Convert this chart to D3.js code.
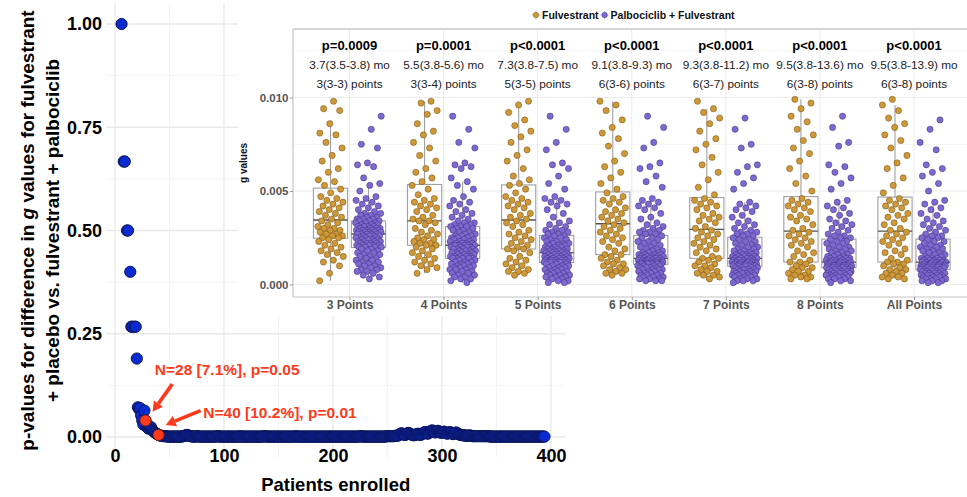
<!DOCTYPE html>
<html>
<head>
<meta charset="utf-8">
<script src="https://cdn.jsdelivr.net/npm/d3@7"></script>
<style>
body { margin: 0; background: #fff; }
svg text { font-family: "Liberation Sans", Arial, sans-serif; }
</style>
</head>
<body>
<div id="chart"></div>
<script>
var width = 967;
var height = 497;

// ---- main plot data: p-value by number of patients enrolled ----
var earlyN = [6, 8, 9, 11, 12, 14, 15, 16, 18, 19, 20, 21, 22, 23, 24, 25, 26, 27, 28, 29, 30, 31, 32, 33, 34, 35, 36, 37, 38, 39, 40];
var earlyP = [1, 0.667, 0.667, 0.5, 0.5, 0.4, 0.267, 0.267, 0.267, 0.267, 0.19, 0.072, 0.068, 0.07, 0.052, 0.04, 0.03, 0.064, 0.04, 0.025, 0.022, 0.02, 0.022, 0.024, 0.018, 0.015, 0.012, 0.01, 0.008, 0.007, 0.005];
var highlightN = [28, 40];
// p-values (in thousandths) for N = 41 .. 394
var tailStart = 41;
var tailP = [
 4,3,3,2,2,2,2,1,1,1, 1,1,1,1,1,1,1,1,1,1, 1,2,2,3,4,5,4,3,2,2, 1,1,1,1,2,2,1,1,1,1,
 1,1,1,1,1,1,1,1,1,1, 1,1,1,2,2,1,1,1,1,1, 1,1,1,1,1,1,1,1,1,1, 1,1,1,1,2,1,1,1,1,1,
 1,1,1,1,1,1,1,1,1,1, 1,1,1,1,1,1,2,2,1,1, 1,1,1,1,1,1,1,1,1,1, 1,1,1,1,1,1,1,1,1,1,
 1,1,1,1,1,2,1,1,1,1, 1,1,1,1,1,1,1,1,1,1, 1,1,1,1,1,1,1,1,1,1, 1,1,1,1,1,1,1,1,1,1,
 1,1,1,1,1,1,1,1,1,1, 1,1,1,1,1,1,1,1,1,1, 1,1,1,1,2,2,1,1,1,1, 1,1,1,1,1,1,1,1,1,1,
 1,1,1,1,1,1,1,1,2,2, 2,2,2,2,2,2,3,3,3,4, 6,8,9,7,6,5,6,8,10,9, 7,6,5,4,5,6,7,8,6,5,
 6,8,10,12,11,9,8,10,13,15, 16,14,12,11,13,15,14,12,10,11, 12,13,11,9,8,10,12,11,9,7,
 8,10,11,9,7,6,5,5,4,4, 4,3,3,3,4,3,3,2,2,2, 2,2,2,2,2,2,2,2,2,2, 2,2,2,1,1,1,1,1,1,1,
 1,1,1,1,1,1,1,1,1,1, 1,1,1,1,1,1,1,1,1,1, 1,1,1,1,1,1,1,1,1,1, 1,1,1,1,1,1,1,1,1,1,
 1,1,1,1
];
var annotations = ["N=28 [7.1%], p=0.05", "N=40 [10.2%], p=0.01"];

// ---- inset data: g values (x 1e-4) ----
var categories = ["3 Points", "4 Points", "5 Points", "6 Points", "7 Points", "8 Points", "All Points"];
var arms = ["Fulvestrant", "Palbociclib + Fulvestrant"];
var pLabels = ["p=0.0009", "p=0.0001", "p<0.0001", "p<0.0001", "p<0.0001", "p<0.0001", "p<0.0001"];
var moLabels = ["3.7(3.5-3.8) mo", "5.5(3.8-5.6) mo", "7.3(3.8-7.5) mo", "9.1(3.8-9.3) mo", "9.3(3.8-11.2) mo", "9.5(3.8-13.6) mo", "9.5(3.8-13.9) mo"];
var ptLabels = ["3(3-3) points", "3(3-4) points", "5(3-5) points", "6(3-6) points", "6(3-7) points", "6(3-8) points", "6(3-8) points"];

var fulv3 = [98,94,93,86,81,80,76,73,69,66,62,60,56,55,53, 51,49,47,46,45,44,43,42,41,40,39,38,37,36,35, 34,33,32,31,30,30,29,29,28,27,27,26,26,25,25, 24,23,22,21,20,19,18,17,16,15,13,12,10,6,2];
var fulv4 = [98,97,93,91,86,82,80,76,73,69,66,62,60,57,55, 53,51,48,46,45,44,43,42,41,40,39,37,36,35,34, 34,33,32,30,29,28,27,26,25,24,24,23,22,22,21, 21,20,19,18,17,16,15,14,13,12,11,10,9,8,6];
var fulv5 = [98,96,92,88,85,82,79,76,72,69,66,62,58,56,54, 53,51,49,47,46,45,44,43,42,41,40,38,37,36,35, 34,33,32,31,29,28,27,26,25,24,23,22,21,20,19, 19,18,17,15,14,13,12,11,10,9,8,7,7,6,5];
var fulv6 = [98,96,93,88,84,81,78,74,70,66,63,60,57,54,51, 49,47,46,45,44,43,41,40,39,38,37,36,35,34,33, 32,31,30,29,28,27,26,25,24,23,22,20,19,18,16, 16,15,14,13,12,11,11,10,9,8,8,7,6,6,5];
var fulv7 = [98,94,92,89,86,82,78,75,72,68,64,60,56,52,48, 46,45,44,43,42,41,40,38,37,36,35,34,33,31,30, 29,28,27,26,25,24,23,22,21,20,19,18,17,15,14, 14,13,12,11,10,10,9,8,7,7,6,5,5,4,3];
var fulv8 = [99,97,94,90,87,83,80,77,73,70,66,62,58,54,50, 46,45,44,43,42,41,40,39,37,36,35,34,32,30,29, 28,27,26,25,24,23,22,21,20,18,17,16,15,13,12, 12,11,10,9,9,8,7,7,6,5,5,4,4,3,3];
var fulvAll = [99,96,93,89,86,84,80,77,73,69,65,62,57,53,49, 46,45,44,43,42,41,40,38,37,36,35,33,32,30,29, 28,27,26,25,24,23,22,21,19,18,17,16,14,13,12, 12,11,11,10,9,8,8,7,6,6,5,4,4,3,3];

var palbo3 = [90,83,75,73,65,64,63,57,54,53,50,47,46,45,44,43,42,41,40,39,38,38,37,37,36,36,35,35,35,34,
 34,34,33,33,33,32,32,32,31,31,31,31,30,30,30,30,29,29,29,29,29,28,28,28,28,28,27,27,27,27,
 27,26,26,26,26,25,25,25,25,24,24,24,24,23,23,23,23,22,22,22,22,21,21,21,21,21,20,20,20,20,
 19,19,18,18,17,17,16,16,15,15,14,14,13,13,12,12,11,11,10,10,9,9,8,8,7,7,6,5,4,3];
var palbo4 = [90,83,76,73,65,64,63,62,57,55,53,51,47,45,44,43,42,40,39,38,37,36,35,34,33,33,32,32,31,31,
 31,30,30,29,29,28,28,27,27,26,26,26,25,25,25,24,24,24,23,23,23,22,22,22,22,21,21,21,21,21,
 21,20,20,20,20,19,19,19,19,18,18,18,18,17,17,17,17,16,16,16,16,15,15,15,15,15,14,14,14,14,
 14,13,13,12,12,12,11,11,11,10,10,10,9,9,9,8,8,8,7,7,6,6,5,5,4,4,3,3,2,1];
var palbo5 = [90,83,76,72,65,64,62,58,54,51,47,46,45,44,43,42,40,38,36,34,33,32,31,30,29,29,28,28,27,27,
 26,26,25,25,24,24,23,23,22,22,22,21,21,21,20,20,20,19,19,19,19,18,18,18,18,18,17,17,17,17,
 17,16,16,16,16,16,15,15,15,15,15,14,14,14,14,14,13,13,13,13,13,13,12,12,12,12,12,12,12,12,
 11,11,11,10,10,10,9,9,9,8,8,8,7,7,7,6,6,6,5,5,5,4,4,4,3,3,2,2,1,1];
var palbo6 = [90,84,76,73,65,63,62,58,55,52,46,45,44,43,42,41,40,38,36,35,33,32,31,30,29,29,28,28,27,27,
 26,25,25,24,23,23,22,22,21,20,20,19,19,18,18,17,17,17,16,16,16,16,15,15,15,15,15,14,14,14,
 14,14,14,13,13,13,13,13,13,13,12,12,12,12,12,12,12,12,11,11,11,11,11,11,11,11,11,11,11,11,
 10,10,10,10,9,9,9,9,8,8,8,8,7,7,7,6,6,6,5,5,5,4,4,4,3,3,3,2,2,2];
var palbo7 = [89,83,75,73,64,63,60,57,54,51,44,43,42,41,40,39,37,36,34,33,32,31,30,29,28,28,27,27,26,26,
 25,24,24,23,23,22,21,21,20,20,19,19,18,18,17,17,17,16,16,16,16,15,15,15,15,15,14,14,14,14,
 14,13,13,13,13,13,13,12,12,12,12,12,12,12,11,11,11,11,11,11,11,11,10,10,10,10,10,10,10,10,
 9,9,9,9,8,8,8,8,7,7,7,7,6,6,6,6,5,5,5,5,4,4,4,3,3,3,2,2,2,1];
var palbo8 = [90,84,76,74,64,63,60,57,54,51,45,44,42,41,40,38,37,35,34,33,32,31,30,29,28,27,26,26,25,25,
 24,23,23,22,22,21,20,20,19,19,18,18,17,17,16,16,15,15,15,14,14,14,14,13,13,13,13,13,12,12,
 12,12,12,12,12,11,11,11,11,11,11,11,11,10,10,10,10,10,10,10,10,10,10,9,9,9,9,9,9,9,
 9,8,8,8,8,8,7,7,7,7,7,6,6,6,6,6,5,5,5,5,4,4,4,4,3,3,3,2,2,1];
var palboAll = [88,83,76,72,64,62,60,58,54,50,45,44,43,41,40,38,37,35,34,33,32,31,30,29,28,27,26,26,25,25,
 24,23,23,22,21,21,20,20,19,19,18,18,17,17,16,16,15,15,14,14,14,14,13,13,13,13,13,12,12,12,
 12,12,12,11,11,11,11,11,11,11,10,10,10,10,10,10,10,10,10,9,9,9,9,9,9,9,9,8,8,8,
 8,8,7,7,7,7,7,6,6,6,6,6,5,5,5,5,5,4,4,4,4,3,3,3,3,2,2,2,1,1];

var fulvData = [fulv3, fulv4, fulv5, fulv6, fulv7, fulv8, fulvAll];
var palboData = [palbo3, palbo4, palbo5, palbo6, palbo7, palbo8, palboAll];

var armFill = ["#cf9838", "#7d69cf"];
var armStroke = ["#6e4e12", "#3a2c7c"];

var svg = d3.select("#chart").append("svg")
    .attr("width", width)
    .attr("height", height);

svg.append("rect").attr("width", width).attr("height", height).attr("fill", "#fff");

// ================= main plot =================
var x = d3.scaleLinear().domain([0, 400]).range([115, 551]);
var y = d3.scaleLinear().domain([0, 1]).range([437, 24]);
var px0 = x(-8), px1 = x(413), py0 = y(1.05), py1 = y(-0.05);

var grid = svg.append("g");
[50, 150, 250, 350].forEach(function(v) {
    grid.append("line").attr("x1", x(v)).attr("x2", x(v)).attr("y1", py0).attr("y2", py1)
        .attr("stroke", "#f3f3f3").attr("stroke-width", 1);
});
[0.125, 0.375, 0.625, 0.875].forEach(function(v) {
    grid.append("line").attr("x1", px0).attr("x2", px1).attr("y1", y(v)).attr("y2", y(v))
        .attr("stroke", "#f3f3f3").attr("stroke-width", 1);
});
[0, 100, 200, 300, 400].forEach(function(v) {
    grid.append("line").attr("x1", x(v)).attr("x2", x(v)).attr("y1", py0).attr("y2", py1)
        .attr("stroke", "#e9e9e9").attr("stroke-width", 1.3);
});
[0, 0.25, 0.5, 0.75, 1].forEach(function(v) {
    grid.append("line").attr("x1", px0).attr("x2", px1).attr("y1", y(v)).attr("y2", y(v))
        .attr("stroke", "#e9e9e9").attr("stroke-width", 1.3);
});

var yAxis = svg.append("g").attr("transform", "translate(102,0)")
    .call(d3.axisLeft(y).tickValues([0, 0.25, 0.5, 0.75, 1]).tickFormat(d3.format(".2f")).tickSize(0).tickPadding(0));
yAxis.select(".domain").remove();
yAxis.selectAll("text").attr("font-size", 18).attr("font-weight", "bold").attr("fill", "#000")
    .style("font-family", '"Liberation Sans", Arial, sans-serif');

var xAxis = svg.append("g").attr("transform", "translate(0,449)")
    .call(d3.axisBottom(x).tickValues([0, 100, 200, 300, 400]).tickSize(0).tickPadding(0));
xAxis.select(".domain").remove();
xAxis.selectAll("text").attr("font-size", 18).attr("font-weight", "bold").attr("fill", "#000")
    .style("font-family", '"Liberation Sans", Arial, sans-serif');

// axis titles
var yt = svg.append("text")
    .attr("transform", "translate(27," + ((py0 + py1) / 2) + ") rotate(-90)")
    .attr("text-anchor", "middle").attr("dy", "0.35em")
    .attr("font-size", 19).attr("font-weight", "bold").attr("fill", "#000");
yt.append("tspan").text("p-values for difference in ");
yt.append("tspan").attr("font-style", "italic").text("g");
yt.append("tspan").text(" values for fulvestrant");
svg.append("text")
    .attr("transform", "translate(52," + ((py0 + py1) / 2) + ") rotate(-90)")
    .attr("text-anchor", "middle").attr("dy", "0.35em")
    .attr("font-size", 19).attr("font-weight", "bold").attr("fill", "#000")
    .text("+ placebo vs. fulvestrant + palbociclib");
svg.append("text")
    .attr("x", (px0 + px1) / 2).attr("y", 491)
    .attr("text-anchor", "middle")
    .attr("font-size", 18.5).attr("font-weight", "bold").attr("fill", "#000")
    .text("Patients enrolled");

// points
var mainPts = [];
for (var i = 0; i < earlyN.length; ++i) mainPts.push({n: earlyN[i], p: earlyP[i]});
for (var j = 0; j < tailP.length; ++j) mainPts.push({n: tailStart + j, p: tailP[j] / 1000});

svg.append("g").selectAll("circle")
    .data(mainPts)
    .enter()
    .append("circle")
    .attr("cx", function(d) { return x(d.n); })
    .attr("cy", function(d) { return y(d.p); })
    .attr("r", 5.6)
    .attr("fill", function(d) { return highlightN.indexOf(d.n) >= 0 ? "#ff3b1c" : "#0a2ad2"; })
    .attr("stroke", "#0b1658")
    .attr("stroke-width", 1);

// re-draw highlighted points on top
svg.append("g").selectAll("circle")
    .data(mainPts.filter(function(d) { return highlightN.indexOf(d.n) >= 0; }))
    .enter()
    .append("circle")
    .attr("cx", function(d) { return x(d.n); })
    .attr("cy", function(d) { return y(d.p); })
    .attr("r", 5.6)
    .attr("fill", "#ff3b1c")
    .attr("stroke", "#5a1a10")
    .attr("stroke-width", 0.8);

// annotations
var red = "#ff3a1a";
function arrow(n0, p0, n1, p1) {
    var xa = x(n0), ya = y(p0), xb = x(n1), yb = y(p1);
    var ang = Math.atan2(yb - ya, xb - xa);
    var hl = 10, hw = 5.5;
    var bx = xb - hl * Math.cos(ang), by = yb - hl * Math.sin(ang);
    svg.append("line").attr("x1", xa).attr("y1", ya).attr("x2", bx).attr("y2", by)
        .attr("stroke", red).attr("stroke-width", 3.6);
    svg.append("path")
        .attr("d", "M" + xb + "," + yb +
            "L" + (bx + hw * Math.sin(ang)) + "," + (by - hw * Math.cos(ang)) +
            "L" + (bx - hw * Math.sin(ang)) + "," + (by + hw * Math.cos(ang)) + "Z")
        .attr("fill", red);
}
svg.append("text").attr("x", x(36.5)).attr("y", y(0.149))
    .attr("font-size", 15.5).attr("font-weight", "bold").attr("fill", red).text(annotations[0]);
svg.append("text").attr("x", x(81)).attr("y", y(0.047))
    .attr("font-size", 15.5).attr("font-weight", "bold").attr("fill", red).text(annotations[1]);
arrow(52.5, 0.128, 34.5, 0.061);
arrow(78.5, 0.064, 46.5, 0.029);

// ================= inset =================
var inset = svg.append("g");
inset.append("rect").attr("x", 238).attr("y", 0).attr("width", width - 238).attr("height", 316).attr("fill", "#fff");

var ix0 = 293, ix1 = 971, iy0 = 29, iy1 = 297;
var xc = d3.scalePoint().domain(categories).range([349.5, 914]);
var xa = d3.scaleBand().domain(arms).range([-38, 38]);
var yg = d3.scaleLinear().domain([0, 0.01]).range([284.5, 97.5]);

[0.0025, 0.0075, 0.0125].forEach(function(v) {
    inset.append("line").attr("x1", ix0).attr("x2", ix1).attr("y1", yg(v)).attr("y2", yg(v))
        .attr("stroke", "#f4f4f4").attr("stroke-width", 1);
});
[0, 0.005, 0.01].forEach(function(v) {
    inset.append("line").attr("x1", ix0).attr("x2", ix1).attr("y1", yg(v)).attr("y2", yg(v))
        .attr("stroke", "#ebebeb").attr("stroke-width", 1);
});
categories.forEach(function(c) {
    inset.append("line").attr("x1", xc(c)).attr("x2", xc(c)).attr("y1", iy0).attr("y2", iy1)
        .attr("stroke", "#ebebeb").attr("stroke-width", 1);
});

// panel border
inset.append("line").attr("x1", ix0).attr("x2", ix1).attr("y1", iy0).attr("y2", iy0)
    .attr("stroke", "#d6d6d6").attr("stroke-width", 2.2);
inset.append("line").attr("x1", ix0).attr("x2", ix0).attr("y1", iy0).attr("y2", iy1)
    .attr("stroke", "#c4c4c4").attr("stroke-width", 1.2);
inset.append("line").attr("x1", ix0).attr("x2", ix1).attr("y1", iy1).attr("y2", iy1)
    .attr("stroke", "#c4c4c4").attr("stroke-width", 1.2);

var gy = inset.append("g").attr("transform", "translate(" + ix0 + ",0)")
    .call(d3.axisLeft(yg).tickValues([0, 0.005, 0.01]).tickFormat(d3.format(".3f")).tickSize(3).tickPadding(1.5));
gy.select(".domain").remove();
gy.selectAll("line").attr("stroke", "#9a9a9a");
gy.selectAll("text").attr("font-size", 11.5).attr("font-weight", "bold").attr("fill", "#555")
    .style("font-family", '"Liberation Sans", Arial, sans-serif');

var gx = inset.append("g").attr("transform", "translate(0," + iy1 + ")")
    .call(d3.axisBottom(xc).tickSize(3).tickPadding(0.5));
gx.select(".domain").remove();
gx.selectAll("line").attr("stroke", "#9a9a9a");
gx.selectAll("text").attr("font-size", 12).attr("font-weight", "bold").attr("fill", "#555")
    .style("font-family", '"Liberation Sans", Arial, sans-serif');

inset.append("text")
    .attr("transform", "translate(243," + yg(0.0065) + ") rotate(-90)")
    .attr("text-anchor", "middle").attr("dy", "0.35em")
    .attr("font-size", 10).attr("font-weight", "bold").attr("fill", "#111")
    .text("g values");

// headers
categories.forEach(function(c, i) {
    inset.append("text").attr("x", xc(c)).attr("y", 50).attr("text-anchor", "middle")
        .attr("font-size", 13).attr("font-weight", "bold").attr("fill", "#000").text(pLabels[i]);
    inset.append("text").attr("x", xc(c)).attr("y", 68.5).attr("text-anchor", "middle")
        .attr("font-size", 11.8).attr("fill", "#222").text(moLabels[i]);
    inset.append("text").attr("x", xc(c)).attr("y", 87.5).attr("text-anchor", "middle")
        .attr("font-size", 11.8).attr("fill", "#222").text(ptLabels[i]);
});

// boxes + jittered points
var boxW = xa.bandwidth() * 0.9;
categories.forEach(function(c, ci) {
    arms.forEach(function(arm, ai) {
        var vals = (ai === 0 ? fulvData : palboData)[ci].map(function(v) { return v * 1e-4; });
        var sorted = vals.slice().sort(d3.ascending);
        var q1 = d3.quantile(sorted, 0.25), med = d3.quantile(sorted, 0.5), q3 = d3.quantile(sorted, 0.75);
        var iqr = q3 - q1;
        var hi = d3.max(sorted.filter(function(v) { return v <= q3 + 1.5 * iqr; }));
        var lo = d3.min(sorted.filter(function(v) { return v >= q1 - 1.5 * iqr; }));
        var cx = xc(c) + xa(arm) + xa.bandwidth() / 2;
        var b = inset.append("g");
        b.append("line").attr("x1", cx).attr("x2", cx).attr("y1", yg(hi)).attr("y2", yg(q3))
            .attr("stroke", "#a0a0a0").attr("stroke-width", 1.1);
        b.append("line").attr("x1", cx).attr("x2", cx).attr("y1", yg(q1)).attr("y2", yg(lo))
            .attr("stroke", "#a0a0a0").attr("stroke-width", 1.1);
        b.append("rect").attr("x", cx - boxW / 2).attr("width", boxW)
            .attr("y", yg(q3)).attr("height", yg(q1) - yg(q3))
            .attr("fill", "none").attr("stroke", "#a0a0a0").attr("stroke-width", 1.1);
        b.append("line").attr("x1", cx - boxW / 2).attr("x2", cx + boxW / 2).attr("y1", yg(med)).attr("y2", yg(med))
            .attr("stroke", "#505050").attr("stroke-width", 1.3);

        inset.append("g").selectAll("circle")
            .data(vals)
            .enter()
            .append("circle")
            .attr("cx", function(d, i) {
                var f = ((i + 1) * 0.6180339887 + ai * 0.37 + ci * 0.13) % 1;
                return cx + (f - 0.5) * 26;
            })
            .attr("cy", function(d) { return yg(d); })
            .attr("r", 3.1)
            .attr("fill", armFill[ai])
            .attr("stroke", armStroke[ai])
            .attr("stroke-width", 0.5);
    });
});

// legend
var lg = inset.append("g").attr("transform", "translate(0,15)");
var lx = 536;
arms.forEach(function(arm, ai) {
    lg.append("line").attr("x1", lx - 4.5).attr("x2", lx + 4.5).attr("y1", 0).attr("y2", 0).attr("stroke", "#b5b5b5").attr("stroke-width", 0.8);
    lg.append("line").attr("x1", lx).attr("x2", lx).attr("y1", -4.5).attr("y2", 4.5).attr("stroke", "#b5b5b5").attr("stroke-width", 0.8);
    lg.append("circle").attr("cx", lx).attr("cy", 0).attr("r", 2.8)
        .attr("fill", armFill[ai]).attr("stroke", armStroke[ai]).attr("stroke-width", 0.4);
    var t = lg.append("text").attr("x", lx + 6).attr("dy", "0.35em")
        .attr("font-size", 10.5).attr("font-weight", "bold").attr("fill", "#111").text(arm);
    lx = lx + 6 + t.node().getComputedTextLength() + 6;
});
</script>
</body>
</html>
